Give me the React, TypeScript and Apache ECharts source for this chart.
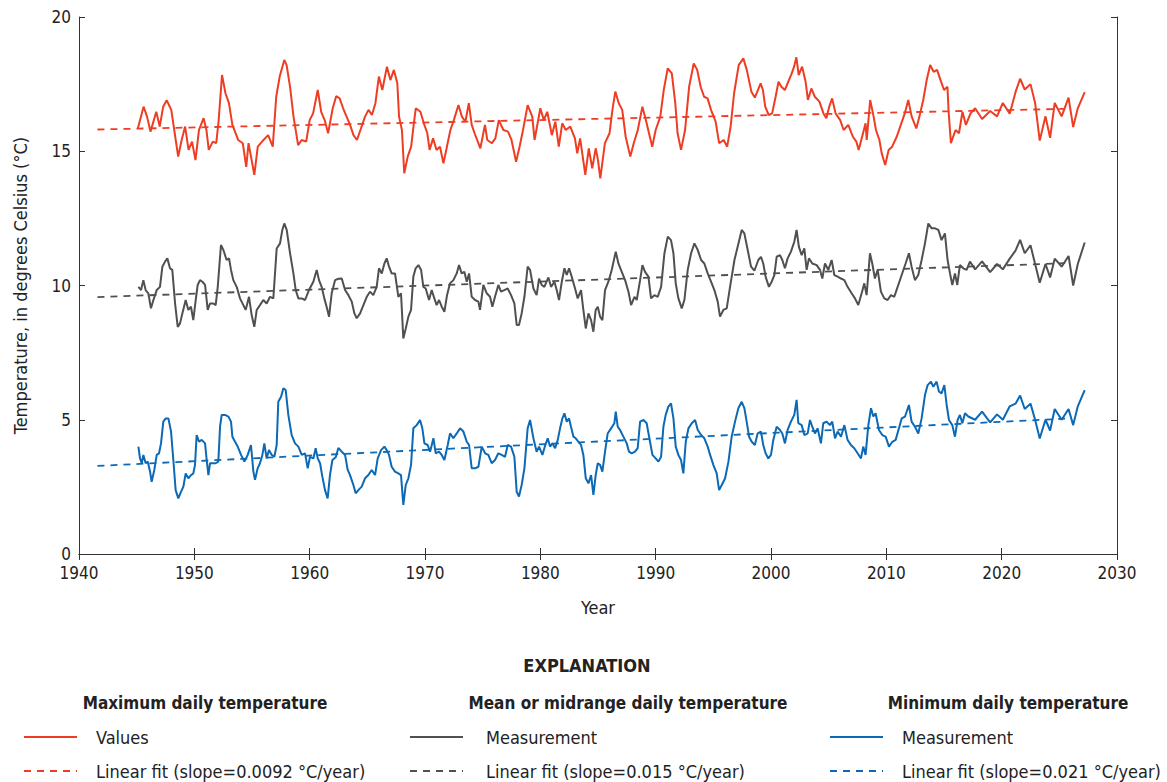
import React, { useEffect, useRef } from "react";
import * as echarts from "echarts";

const xTicks = [1940, 2030, 10];
const yTicks = [0, 20, 5];

const maxTemp = [
[1945.1,15.85],[1945.6,16.66],[1945.9,16.29],[1946.2,15.73],[1946.7,16.47],[1947.0,15.92],[1947.3,16.66],[1947.6,16.9],[1948.0,16.54],[1948.3,15.67],[1948.6,14.8],[1948.9,15.42],[1949.2,15.92],[1949.5,15.05],[1949.8,15.36],[1950.1,14.67],[1950.4,15.79],[1950.8,16.23],[1951.05,15.79],[1951.25,15.05],[1951.6,15.36],[1951.9,15.3],[1952.1,16.1],[1952.4,17.84],[1952.7,17.16],[1953.0,16.79],[1953.3,15.98],[1953.8,15.42],[1954.2,15.3],[1954.5,14.42],[1954.7,15.3],[1955.2,14.12],[1955.5,15.17],[1956.0,15.42],[1956.4,15.6],[1956.8,15.17],[1957.1,17.03],[1957.4,17.78],[1957.8,18.4],[1958.0,18.21],[1958.3,17.4],[1958.6,16.29],[1959.0,15.23],[1959.3,15.42],[1959.7,15.36],[1960.0,16.16],[1960.3,16.41],[1960.7,17.28],[1961.0,16.47],[1961.3,16.16],[1961.6,15.67],[1962.0,16.6],[1962.3,17.05],[1962.6,16.97],[1962.9,16.6],[1963.2,16.29],[1963.5,15.98],[1963.8,15.6],[1964.1,15.42],[1964.4,15.79],[1964.8,16.29],[1965.1,16.54],[1965.4,16.35],[1965.7,16.79],[1966.0,17.78],[1966.3,17.28],[1966.7,18.15],[1967.0,17.65],[1967.3,18.03],[1967.6,17.53],[1967.75,16.29],[1968.0,15.79],[1968.2,14.18],[1968.5,14.8],[1968.8,15.17],[1969.0,15.92],[1969.2,16.6],[1969.6,16.47],[1969.9,16.04],[1970.2,15.67],[1970.4,15.05],[1970.7,15.48],[1971.0,15.05],[1971.3,15.17],[1971.6,14.55],[1971.9,15.17],[1972.2,15.79],[1972.5,16.16],[1972.9,16.72],[1973.2,16.29],[1973.5,16.1],[1973.8,16.79],[1974.05,15.98],[1974.3,15.67],[1974.8,15.11],[1975.2,15.98],[1975.4,15.42],[1975.8,15.3],[1976.1,15.48],[1976.4,16.16],[1976.8,15.79],[1977.2,15.73],[1977.5,15.42],[1977.9,14.61],[1978.2,15.17],[1978.5,15.79],[1978.9,16.72],[1979.3,16.29],[1979.5,15.42],[1980.0,16.6],[1980.3,16.16],[1980.6,16.47],[1981.0,15.6],[1981.3,16.1],[1981.6,15.17],[1981.9,16.04],[1982.2,15.79],[1982.6,15.92],[1983.0,15.48],[1983.2,14.92],[1983.45,15.48],[1983.9,14.12],[1984.2,15.11],[1984.5,14.36],[1984.8,15.11],[1985.0,14.67],[1985.2,13.99],[1985.6,15.3],[1986.0,15.67],[1986.25,16.54],[1986.5,17.22],[1986.8,16.79],[1987.1,16.54],[1987.4,15.54],[1987.8,14.8],[1988.1,15.3],[1988.45,15.79],[1988.85,16.66],[1989.15,16.16],[1989.7,15.17],[1990.0,15.79],[1990.4,16.29],[1990.7,17.28],[1991.05,18.09],[1991.4,17.9],[1991.7,16.79],[1991.9,15.67],[1992.2,15.05],[1992.55,15.79],[1992.9,17.4],[1993.3,18.27],[1993.6,18.03],[1993.9,17.4],[1994.2,17.03],[1994.5,16.97],[1994.8,16.54],[1995.2,16.1],[1995.5,15.3],[1995.9,15.42],[1996.2,15.17],[1996.5,15.92],[1996.8,17.16],[1997.2,18.21],[1997.6,18.46],[1997.9,18.03],[1998.3,17.22],[1998.6,17.0],[1999.1,17.53],[1999.3,17.28],[1999.5,16.66],[1999.8,16.35],[2000.1,16.41],[2000.4,17.03],[2000.65,17.59],[2000.9,17.4],[2001.2,17.28],[2001.5,17.59],[2001.8,17.9],[2002.0,18.15],[2002.2,18.5],[2002.4,17.84],[2002.7,18.15],[2003.0,17.59],[2003.2,16.91],[2003.5,17.34],[2003.8,17.03],[2004.2,16.85],[2004.55,16.41],[2004.8,16.23],[2005.05,16.66],[2005.3,16.97],[2005.6,16.41],[2006.0,16.16],[2006.3,15.79],[2006.7,15.98],[2007.1,15.54],[2007.4,15.36],[2007.6,15.05],[2007.9,15.54],[2008.2,16.04],[2008.3,15.42],[2008.6,16.91],[2008.9,16.29],[2009.1,15.79],[2009.4,15.42],[2009.6,14.92],[2009.9,14.49],[2010.2,15.05],[2010.5,15.17],[2010.9,15.54],[2011.3,16.04],[2011.6,16.41],[2011.9,16.91],[2012.2,16.29],[2012.6,15.85],[2012.9,16.35],[2013.2,16.91],[2013.5,17.65],[2013.8,18.21],[2014.1,17.96],[2014.4,18.03],[2014.7,17.65],[2015.0,17.28],[2015.3,17.4],[2015.4,16.47],[2015.6,15.3],[2016.0,15.79],[2016.3,15.67],[2016.6,16.47],[2016.9,15.98],[2017.3,16.41],[2017.7,16.6],[2018.3,16.2],[2019.0,16.5],[2019.6,16.3],[2020.1,16.8],[2020.7,16.4],[2021.2,17.2],[2021.6,17.7],[2022.0,17.3],[2022.5,17.5],[2022.9,16.8],[2023.3,15.4],[2023.8,16.3],[2024.2,15.5],[2024.6,16.8],[2025.2,16.3],[2025.8,17.0],[2026.2,15.9],[2026.6,16.6],[2027.2,17.2]
];

const meanTemp = [
[1945.15,9.95],[1945.38,9.83],[1945.58,10.2],[1945.78,9.83],[1946.01,9.71],[1946.24,9.15],[1946.45,9.46],[1946.74,9.83],[1947.02,9.95],[1947.23,10.7],[1947.46,10.89],[1947.66,11.01],[1947.89,10.64],[1948.09,10.58],[1948.33,9.33],[1948.56,8.46],[1948.76,8.59],[1948.96,8.96],[1949.25,9.46],[1949.48,9.09],[1949.71,9.21],[1949.91,8.71],[1950.12,9.46],[1950.29,10.02],[1950.49,10.2],[1950.7,10.14],[1950.93,10.02],[1951.16,9.09],[1951.36,9.33],[1951.65,9.33],[1951.85,9.27],[1952.03,9.95],[1952.31,11.51],[1952.52,11.32],[1952.8,10.95],[1953.01,11.01],[1953.18,10.58],[1953.38,10.2],[1953.67,9.95],[1953.96,9.52],[1954.25,9.27],[1954.45,9.09],[1954.74,9.58],[1954.97,8.9],[1955.2,8.46],[1955.41,9.09],[1955.69,9.27],[1955.98,9.46],[1956.27,9.33],[1956.56,9.58],[1956.85,9.52],[1957.14,11.38],[1957.43,11.57],[1957.63,12.07],[1957.8,12.31],[1958.01,12.07],[1958.3,11.2],[1958.59,10.45],[1958.79,9.83],[1959.02,9.52],[1959.31,9.52],[1959.6,9.46],[1959.94,9.83],[1960.32,10.14],[1960.61,10.58],[1960.81,10.2],[1961.04,9.95],[1961.27,9.52],[1961.47,9.21],[1961.68,8.84],[1961.91,9.71],[1962.2,10.2],[1962.49,10.25],[1962.78,10.26],[1963.07,9.83],[1963.36,9.64],[1963.65,9.4],[1963.88,8.96],[1964.08,8.78],[1964.37,8.96],[1964.66,9.27],[1964.95,9.58],[1965.23,9.77],[1965.52,9.64],[1965.81,9.95],[1966.01,10.64],[1966.25,10.45],[1966.48,10.82],[1966.68,11.01],[1966.88,10.7],[1967.11,10.45],[1967.4,10.45],[1967.69,9.58],[1967.92,9.71],[1968.12,8.03],[1968.33,8.4],[1968.56,8.84],[1968.79,9.09],[1968.99,10.33],[1969.19,10.64],[1969.43,10.76],[1969.66,10.58],[1969.86,9.95],[1970.06,9.89],[1970.35,9.46],[1970.58,9.83],[1970.81,9.52],[1971.01,9.27],[1971.22,9.46],[1971.45,9.21],[1971.68,9.02],[1971.91,9.64],[1972.17,10.08],[1972.46,10.2],[1972.75,10.45],[1972.95,10.76],[1973.18,10.45],[1973.41,10.51],[1973.62,10.14],[1973.82,10.45],[1974.05,9.58],[1974.34,9.46],[1974.63,9.4],[1974.77,9.09],[1975.06,10.02],[1975.35,9.71],[1975.64,9.58],[1975.84,9.21],[1976.07,9.58],[1976.36,10.02],[1976.59,9.77],[1976.88,9.83],[1977.17,9.89],[1977.46,9.64],[1977.75,9.33],[1977.95,8.53],[1978.15,8.53],[1978.38,8.96],[1978.62,9.58],[1978.9,10.7],[1979.11,10.58],[1979.4,9.89],[1979.68,9.64],[1979.89,10.26],[1980.12,10.02],[1980.35,9.95],[1980.7,10.3],[1980.93,9.95],[1981.22,10.14],[1981.42,9.83],[1981.62,9.46],[1981.86,10.14],[1982.09,10.64],[1982.29,10.39],[1982.49,10.64],[1982.72,10.33],[1983.01,9.89],[1983.24,9.52],[1983.53,9.83],[1983.73,9.09],[1983.94,8.4],[1984.17,8.96],[1984.4,8.71],[1984.6,8.28],[1984.8,9.09],[1984.98,9.21],[1985.18,8.84],[1985.38,8.71],[1985.61,9.83],[1985.9,10.14],[1986.19,10.58],[1986.54,11.26],[1986.77,10.82],[1987.06,10.51],[1987.35,10.2],[1987.64,9.77],[1987.87,9.27],[1988.16,9.58],[1988.36,9.46],[1988.65,10.2],[1988.85,10.76],[1989.08,10.51],[1989.37,10.33],[1989.6,9.52],[1989.89,9.64],[1990.18,9.58],[1990.47,9.95],[1990.76,11.2],[1991.05,11.82],[1991.33,11.69],[1991.54,11.2],[1991.74,10.08],[1991.97,9.52],[1992.26,9.15],[1992.49,9.46],[1992.78,10.58],[1993.07,11.2],[1993.36,11.57],[1993.65,11.32],[1993.94,10.95],[1994.22,10.82],[1994.51,10.45],[1994.8,10.14],[1995.09,9.83],[1995.38,9.4],[1995.58,8.84],[1995.87,9.09],[1996.16,9.15],[1996.45,9.95],[1996.83,10.95],[1997.11,11.44],[1997.46,12.07],[1997.69,11.94],[1997.98,11.32],[1998.27,10.7],[1998.56,10.55],[1998.9,10.95],[1999.13,11.07],[1999.33,10.82],[1999.53,10.33],[1999.82,9.95],[2000.06,10.14],[2000.29,10.39],[2000.49,11.07],[2000.78,11.13],[2000.98,10.95],[2001.21,10.64],[2001.44,11.01],[2001.73,11.26],[2002.02,11.63],[2002.22,12.07],[2002.42,11.44],[2002.66,11.13],[2002.89,11.38],[2003.09,10.58],[2003.29,11.01],[2003.58,10.82],[2003.96,10.76],[2004.25,10.58],[2004.45,10.26],[2004.68,10.82],[2004.97,10.58],[2005.26,10.95],[2005.49,10.39],[2005.78,10.33],[2006.07,10.26],[2006.36,10.2],[2006.64,9.95],[2006.99,9.71],[2007.28,9.52],[2007.57,9.27],[2007.86,9.71],[2008.09,10.08],[2008.29,9.64],[2008.58,11.2],[2008.78,10.82],[2009.01,10.26],[2009.25,10.58],[2009.53,9.77],[2009.82,9.52],[2010.11,9.46],[2010.4,9.64],[2010.69,9.58],[2010.98,9.95],[2011.33,10.39],[2011.67,10.82],[2011.96,11.2],[2012.19,10.7],[2012.48,10.2],[2012.77,10.39],[2013.06,10.95],[2013.35,11.57],[2013.64,12.31],[2013.93,12.13],[2014.22,12.13],[2014.51,12.07],[2014.79,11.69],[2015.08,11.94],[2015.31,10.95],[2015.52,10.45],[2015.72,10.02],[2015.95,10.45],[2016.15,10.02],[2016.38,10.76],[2016.67,10.64],[2016.96,10.58],[2017.25,10.89],[2017.7,10.6],[2018.3,10.9],[2019.0,10.5],[2019.6,10.8],[2020.1,10.6],[2020.7,11.0],[2021.2,11.3],[2021.6,11.7],[2022.0,11.2],[2022.5,11.5],[2022.9,10.8],[2023.3,10.1],[2023.8,10.8],[2024.2,10.3],[2024.6,11.0],[2025.2,10.7],[2025.8,11.1],[2026.2,10.0],[2026.6,10.8],[2027.2,11.6]
];

const minTemp = [
[1945.15,4.0],[1945.29,3.56],[1945.44,3.38],[1945.58,3.69],[1945.78,3.38],[1945.96,3.44],[1946.16,3.07],[1946.3,2.69],[1946.53,3.13],[1946.74,3.69],[1946.94,3.75],[1947.11,4.12],[1947.31,4.93],[1947.52,5.05],[1947.75,5.05],[1947.98,4.56],[1948.18,3.5],[1948.38,2.38],[1948.61,2.07],[1948.85,2.32],[1949.05,2.51],[1949.25,3.0],[1949.48,2.82],[1949.71,2.94],[1949.91,3.0],[1950.06,3.32],[1950.2,4.43],[1950.41,4.18],[1950.64,4.25],[1950.93,4.12],[1951.07,3.5],[1951.22,2.94],[1951.36,3.38],[1951.56,3.38],[1951.85,3.38],[1952.08,3.44],[1952.23,4.74],[1952.37,5.18],[1952.66,5.18],[1952.95,5.12],[1953.18,4.93],[1953.3,4.37],[1953.53,4.18],[1953.76,4.0],[1954.05,3.69],[1954.34,3.44],[1954.63,3.69],[1954.91,4.06],[1955.12,3.07],[1955.26,2.76],[1955.49,3.19],[1955.69,3.38],[1955.9,3.69],[1956.07,4.12],[1956.27,3.56],[1956.47,3.87],[1956.71,3.69],[1956.94,3.62],[1957.14,4.06],[1957.28,5.67],[1957.52,5.86],[1957.72,6.17],[1957.92,6.11],[1958.15,5.18],[1958.44,4.43],[1958.73,4.12],[1959.02,4.0],[1959.31,3.69],[1959.6,3.75],[1959.83,3.19],[1960.03,3.62],[1960.32,3.56],[1960.52,3.94],[1960.7,3.56],[1960.9,3.38],[1961.1,2.88],[1961.33,2.38],[1961.56,2.07],[1961.76,2.94],[1961.97,3.5],[1962.26,3.6],[1962.49,3.95],[1962.78,3.81],[1963.07,3.69],[1963.3,3.13],[1963.5,2.94],[1963.79,2.57],[1963.99,2.26],[1964.22,2.38],[1964.51,2.51],[1964.8,2.82],[1965.09,2.94],[1965.38,3.13],[1965.67,2.94],[1965.9,3.56],[1966.19,3.87],[1966.48,4.0],[1966.68,3.87],[1966.88,3.69],[1967.11,3.25],[1967.4,3.07],[1967.69,3.0],[1967.92,2.94],[1968.12,1.83],[1968.33,2.57],[1968.56,2.82],[1968.79,3.32],[1968.99,4.68],[1969.28,4.8],[1969.57,4.99],[1969.77,4.68],[1969.95,4.12],[1970.23,4.06],[1970.44,3.81],[1970.73,4.31],[1970.93,3.75],[1971.22,3.81],[1971.45,3.69],[1971.68,3.5],[1971.97,4.06],[1972.17,4.49],[1972.46,4.31],[1972.75,4.49],[1973.04,4.68],[1973.33,4.56],[1973.62,4.18],[1973.82,4.06],[1974.05,3.19],[1974.34,3.19],[1974.63,3.25],[1974.92,4.0],[1975.21,3.75],[1975.49,3.69],[1975.78,3.38],[1976.07,3.5],[1976.36,3.75],[1976.65,3.69],[1976.94,3.62],[1977.17,4.06],[1977.46,4.0],[1977.75,3.62],[1977.95,2.32],[1978.15,2.14],[1978.38,2.57],[1978.62,3.19],[1978.9,4.68],[1979.11,4.99],[1979.4,4.31],[1979.68,3.81],[1979.89,4.0],[1980.18,3.69],[1980.41,4.03],[1980.64,4.31],[1980.84,4.0],[1981.05,4.12],[1981.28,3.94],[1981.51,4.25],[1981.71,4.68],[1981.91,5.05],[1982.09,5.24],[1982.29,4.93],[1982.49,5.05],[1982.66,4.74],[1982.87,4.37],[1983.07,4.31],[1983.3,4.18],[1983.53,4.06],[1983.73,3.69],[1983.94,2.82],[1984.17,2.63],[1984.4,2.94],[1984.6,2.2],[1984.8,2.94],[1984.98,3.38],[1985.18,3.32],[1985.38,3.07],[1985.61,3.81],[1985.84,4.49],[1986.13,4.68],[1986.42,4.87],[1986.54,5.3],[1986.71,4.74],[1986.91,4.62],[1987.2,4.37],[1987.49,4.12],[1987.69,3.81],[1987.92,3.75],[1988.21,3.81],[1988.44,3.94],[1988.65,4.93],[1988.94,4.99],[1989.22,4.87],[1989.51,4.18],[1989.72,3.69],[1990.0,3.56],[1990.24,3.44],[1990.47,3.62],[1990.67,4.74],[1990.87,5.18],[1991.1,5.49],[1991.33,5.61],[1991.54,5.05],[1991.74,4.0],[1991.97,3.69],[1992.2,3.5],[1992.4,3.0],[1992.61,4.18],[1992.84,4.68],[1993.13,4.87],[1993.42,4.99],[1993.65,4.62],[1993.94,4.43],[1994.22,4.31],[1994.51,4.0],[1994.72,3.69],[1995.0,3.32],[1995.29,3.0],[1995.5,2.38],[1995.73,2.57],[1996.02,2.82],[1996.31,3.44],[1996.59,4.37],[1996.88,4.93],[1997.17,5.43],[1997.46,5.67],[1997.69,5.43],[1997.89,4.93],[1998.1,4.37],[1998.33,4.18],[1998.6,4.06],[1998.84,4.49],[1999.13,4.56],[1999.33,4.06],[1999.53,3.75],[1999.77,3.56],[2000.0,3.69],[2000.2,4.25],[2000.49,4.74],[2000.78,4.62],[2000.98,4.49],[2001.21,4.12],[2001.44,4.62],[2001.73,4.93],[2002.02,5.18],[2002.22,5.74],[2002.37,4.87],[2002.66,4.8],[2002.89,4.43],[2003.18,4.49],[2003.38,4.99],[2003.58,4.74],[2003.81,4.49],[2004.04,4.68],[2004.33,4.12],[2004.53,4.87],[2004.82,4.93],[2005.11,4.8],[2005.31,4.93],[2005.55,4.31],[2005.78,4.56],[2006.07,4.37],[2006.36,4.8],[2006.64,4.25],[2006.93,4.06],[2007.22,3.94],[2007.51,3.75],[2007.8,3.56],[2008.0,4.0],[2008.2,3.69],[2008.44,4.8],[2008.67,5.43],[2008.87,5.12],[2009.07,5.24],[2009.36,4.62],[2009.65,4.43],[2009.94,4.37],[2010.23,4.0],[2010.52,4.18],[2010.81,4.25],[2011.09,4.68],[2011.33,5.05],[2011.62,5.12],[2011.96,5.55],[2012.19,4.93],[2012.48,4.74],[2012.77,4.49],[2013.06,5.05],[2013.35,5.92],[2013.58,6.29],[2013.87,6.42],[2014.07,6.23],[2014.36,6.42],[2014.56,6.05],[2014.79,5.98],[2015.03,6.29],[2015.23,5.55],[2015.43,4.99],[2015.72,4.8],[2015.95,4.37],[2016.18,4.99],[2016.38,5.18],[2016.59,4.87],[2016.82,5.24],[2017.11,5.12],[2017.7,5.0],[2018.3,5.3],[2019.0,4.9],[2019.6,5.2],[2020.1,5.0],[2020.7,5.5],[2021.2,5.6],[2021.6,5.9],[2022.0,5.4],[2022.5,5.6],[2022.9,5.0],[2023.3,4.3],[2023.8,5.0],[2024.2,4.6],[2024.6,5.4],[2025.2,5.0],[2025.8,5.4],[2026.2,4.8],[2026.6,5.5],[2027.2,6.1]
];

const maxFit = [[1941.6, 15.81], [2025.5, 16.58]];
const meanFit = [[1941.6, 9.57], [2025.5, 10.83]];
const minFit = [[1941.6, 3.28], [2025.5, 5.04]];

const RED = "#ee3d23";
const GRAY = "#505050";
const BLUE = "#0b69b5";
const FONT = "'Liberation Sans Narrow', 'DejaVu Sans Condensed', 'Arial Narrow', sans-serif";

const legendCols = [
  { header: "Maximum daily temperature", cx: 205, lineX: 24, textX: 96, color: RED, solid: "Values", fit: "Linear fit (slope=0.0092 \u00B0C/year)" },
  { header: "Mean or midrange daily temperature", cx: 628, lineX: 410, textX: 486, color: GRAY, solid: "Measurement", fit: "Linear fit (slope=0.015 \u00B0C/year)" },
  { header: "Minimum daily temperature", cx: 1008, lineX: 830, textX: 902, color: BLUE, solid: "Measurement", fit: "Linear fit (slope=0.021 \u00B0C/year)" },
];

export default function App() {
  const ref = useRef<HTMLDivElement>(null);
  useEffect(() => {
    if (!ref.current) return;
    const chart = echarts.init(ref.current, null, { renderer: "svg" });
    const lineSeries = (name: string, data: number[][], color: string, dashed: boolean) => ({
      name,
      type: "line",
      data,
      showSymbol: false,
      symbol: "none",
      silent: true,
      z: dashed ? 3 : 2,
      lineStyle: { color, width: dashed ? 1.8 : 2, type: dashed ? [7, 6] : "solid" },
    });
    const graphics: any[] = [
      {
        type: "text", x: 587, y: 665,
        style: { text: "EXPLANATION", font: `bold 18px ${FONT}`, fill: "#222", textAlign: "center", textVerticalAlign: "middle" },
      },
    ];
    legendCols.forEach((c) => {
      graphics.push({
        type: "text", x: c.cx, y: 703,
        style: { text: c.header, font: `bold 17px ${FONT}`, fill: "#222", textAlign: "center", textVerticalAlign: "middle" },
      });
      graphics.push({ type: "line", shape: { x1: c.lineX, y1: 737, x2: c.lineX + 53, y2: 737 }, style: { stroke: c.color, lineWidth: 1.8 } });
      graphics.push({ type: "line", shape: { x1: c.lineX, y1: 771, x2: c.lineX + 53, y2: 771 }, style: { stroke: c.color, lineWidth: 1.8, lineDash: [7, 6] } });
      graphics.push({
        type: "text", x: c.textX, y: 737,
        style: { text: c.solid, font: `18px ${FONT}`, fill: "#222", textAlign: "left", textVerticalAlign: "middle" },
      });
      graphics.push({
        type: "text", x: c.textX, y: 771,
        style: { text: c.fit, font: `18px ${FONT}`, fill: "#222", textAlign: "left", textVerticalAlign: "middle" },
      });
    });
    const axisLine = { show: true, lineStyle: { color: "#333", width: 1 } };
    const plain = (v: number) => String(v);
    chart.setOption({
      animation: false,
      backgroundColor: "#fff",
      grid: { left: 79, right: 50, top: 17, bottom: 228, containLabel: false },
      xAxis: [
        {
          type: "value", min: xTicks[0], max: xTicks[1], interval: xTicks[2],
          name: "Year", nameLocation: "middle", nameGap: 44,
          nameTextStyle: { fontFamily: FONT, fontSize: 18, color: "#222" },
          axisLine, axisTick: { show: true, inside: true, length: 6, lineStyle: { color: "#333" } },
          axisLabel: { fontFamily: FONT, fontSize: 17, color: "#222", margin: 10, formatter: plain },
          splitLine: { show: false },
        },
        {
          type: "value", position: "top", min: xTicks[0], max: xTicks[1], interval: xTicks[2],
          axisLine, axisTick: { show: true, inside: true, length: 6, lineStyle: { color: "#333" } },
          axisLabel: { show: false }, splitLine: { show: false },
        },
      ],
      yAxis: [
        {
          type: "value", min: yTicks[0], max: yTicks[1], interval: yTicks[2],
          name: "Temperature, in degrees Celsius (\u00B0C)", nameLocation: "middle", nameGap: 50,
          nameTextStyle: { fontFamily: FONT, fontSize: 18, color: "#222" },
          axisLine, axisTick: { show: true, inside: true, length: 6, lineStyle: { color: "#333" } },
          axisLabel: { fontFamily: FONT, fontSize: 17, color: "#222", margin: 8, formatter: plain },
          splitLine: { show: false },
        },
        {
          type: "value", position: "right", min: yTicks[0], max: yTicks[1], interval: yTicks[2],
          axisLine, axisTick: { show: true, inside: true, length: 6, lineStyle: { color: "#333" } },
          axisLabel: { show: false }, splitLine: { show: false },
        },
      ],
      series: [
        lineSeries("Maximum", maxTemp, RED, false),
        lineSeries("Maximum fit", maxFit, RED, true),
        lineSeries("Mean", meanTemp, GRAY, false),
        lineSeries("Mean fit", meanFit, GRAY, true),
        lineSeries("Minimum", minTemp, BLUE, false),
        lineSeries("Minimum fit", minFit, BLUE, true),
      ],
      graphic: graphics,
    });
    return () => chart.dispose();
  }, []);
  return (
    <div
      ref={ref}
      style={{ position: "fixed", left: 0, top: 0, width: 1167, height: 782, background: "#fff" }}
    />
  );
}
